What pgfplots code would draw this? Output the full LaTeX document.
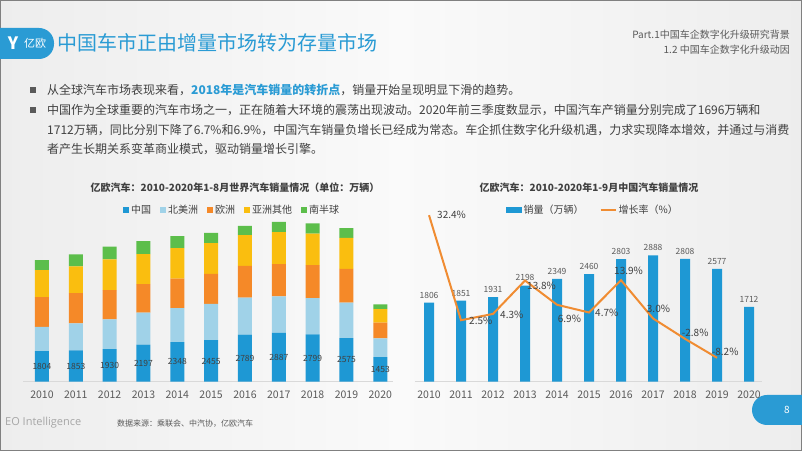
\documentclass[border=0pt]{standalone}
\usepackage{pgfplots}
\pgfplotsset{compat=1.18}
\usepackage{pgfplotstable}
\usepackage{fontspec}
\setmainfont{Noto Sans CJK SC}
\newfontfamily\opensans{Open Sans}
\definecolor{cnblue}{RGB}{30,152,212}
\definecolor{nablue}{RGB}{160,210,232}
\definecolor{euorange}{RGB}{245,137,40}
\definecolor{asyellow}{RGB}{250,190,15}
\definecolor{sgreen}{RGB}{92,190,75}
\definecolor{lineorange}{RGB}{240,140,50}
\definecolor{titleblue}{RGB}{42,155,212}
\definecolor{txt}{RGB}{64,64,64}
\definecolor{lbl}{RGB}{90,90,90}
\newcommand{\fs}[1]{\fontsize{#1bp}{#1bp}\selectfont}

\pgfplotstableread{
x cn na eu as sh
0 1804 1440 1760 1600 590
1 1853 1600 1800 1580 710
2 1930 1760 1740 1820 750
3 2197 1900 1680 1780 770
4 2348 2010 1740 1820 710
5 2455 2150 1780 1820 610
6 2789 2190 1880 1820 550
7 2887 2170 1900 1900 610
8 2799 2150 1960 1860 610
9 2575 2110 2000 1840 570
10 1453 1110 930 810 280
}\worldtable

\pgfplotstableread{
x v
0 1806
1 1851
2 1931
3 2198
4 2349
5 2460
6 2803
7 2888
8 2808
9 2577
10 1712
}\chinatable

\pgfplotstableread{
x g
0 32.4
1 2.5
2 4.3
3 13.8
4 6.9
5 4.7
6 13.9
7 3.0
8 -2.8
9 -8.2
}\growthtable

\pgfplotsset{
  commonx/.style={
    scale only axis, anchor=south west,
    axis y line=none, axis x line*=bottom,
    x axis line style={draw=black!15, line width=0.8bp, -},
    xtick={0,1,2,3,4,5,6,7,8,9,10},
    xticklabels={2010,2011,2012,2013,2014,2015,2016,2017,2018,2019,2020},
    major tick length=0,
    xticklabel style={font=\fs{10.5}, text=lbl, yshift=-6bp},
    clip=false,
  },
}

\begin{document}
\begin{tikzpicture}
\begin{scope}[x=1bp,y=1bp]
\path[use as bounding box] (0,0) rectangle (802,451);
\clip (0,0) rectangle (802,451);
\shade[left color=black!7, right color=black!7, middle color=black!2] (0,0) rectangle (802,451);
\draw[black!50, line width=2bp] (0,0) rectangle (802,451);

% header tab
\fill[titleblue, rounded corners=15bp] (-20,392) rectangle (54,423);
\node[white, font=\fs{17}\bfseries] at (13,407.5) {Y};
\node[white, font=\fs{11}] at (35,407.5) {亿欧};
\node[anchor=west, text=titleblue, font=\fs{20}, inner sep=0] at (57,408) {中国车市正由增量市场转为存量市场};
\node[anchor=east, text=lbl, font=\fs{10}, inner sep=0] at (790,416) {Part.1中国车企数字化升级研究背景};
\node[anchor=east, text=lbl, font=\fs{10}, inner sep=0] at (790,401) {1.2 中国车企数字化升级动因};

% bullets
\fill[black!65] (30,358) rectangle (36,364);
\fill[black!65] (30,338) rectangle (36,344);
\node[anchor=base west, text=txt, font=\fs{12}, inner sep=0] at (47,356.4) {从全球汽车市场表现来看，\textcolor{titleblue}{\bfseries 2018年是汽车销量的转折点}，销量开始呈现明显下滑的趋势。};
\node[anchor=base west, text=txt, font=\fs{12}, inner sep=0] at (47,336.4) {中国作为全球重要的汽车市场之一，正在随着大环境的震荡出现波动。2020年前三季度数显示，中国汽车产销量分别完成了1696万辆和};
\node[anchor=base west, text=txt, font=\fs{12}, inner sep=0] at (47,316.4) {1712万辆，同比分别下降了6.7\%和6.9\%，中国汽车销量负增长已经成为常态。车企抓住数字化升级机遇，力求实现降本增效，并通过与消费};
\node[anchor=base west, text=txt, font=\fs{12}, inner sep=0] at (47,297.4) {者产生长期关系变革商业模式，驱动销量增长引擎。};

% chart titles
\node[text=txt, font=\fs{10}\bfseries] at (235,263) {亿欧汽车：2010-2020年1-8月世界汽车销量情况（单位：万辆）};
\node[text=txt, font=\fs{10}\bfseries] at (589,263) {亿欧汽车：2010-2020年1-9月中国汽车销量情况};

% footer
\node[anchor=west, inner sep=0, text=black!35, font=\opensans\fs{11}] at (5,28) {EO Intelligence};
\node[anchor=west, inner sep=0, text=lbl, font=\fs{8}] at (117,27) {数据来源：乘联会、中汽协，亿欧汽车};
\fill[titleblue, rounded corners=15bp] (752,26) rectangle (830,56);
\node[white, font=\fs{10}] at (787,41) {8};
\end{scope}

% left chart
\begin{axis}[
  commonx,
  at={(23bp,69.3bp)},
  width=370bp, height=170bp,
  xmin=-0.56, xmax=10.375, ymin=0, ymax=10070,
  ybar stacked, bar width=14bp,
  legend style={at={(axis description cs:0.565,1.01)}, anchor=center, draw=none, fill=none,
    font=\fs{10}, text=txt, legend columns=-1,
    /tikz/every even column/.append style={column sep=7bp}},
  legend image code/.code={\fill[#1] (0bp,-3bp) rectangle (6bp,3bp);},
]
\addplot[fill=cnblue, draw=none] table[x=x,y=cn]{\worldtable};
\addlegendentry{中国}
\addplot[fill=nablue, draw=none] table[x=x,y=na]{\worldtable};
\addlegendentry{北美洲}
\addplot[fill=euorange, draw=none] table[x=x,y=eu]{\worldtable};
\addlegendentry{欧洲}
\addplot[fill=asyellow, draw=none] table[x=x,y=as]{\worldtable};
\addlegendentry{亚洲其他}
\addplot[fill=sgreen, draw=none] table[x=x,y=sh]{\worldtable};
\addlegendentry{南半球}
\end{axis}

% left chart labels (overlay, drawn on top of the bars)
\begin{axis}[
  at={(23bp,69.3bp)}, anchor=south west, scale only axis,
  width=370bp, height=170bp,
  xmin=-0.56, xmax=10.375, ymin=0, ymax=10070,
  axis lines=none, clip=false,
]
\addplot[draw=none, mark=none, nodes near coords, point meta=explicit symbolic,
  every node near coord/.style={anchor=center, font=\fs{8.5}, text=txt}]
  coordinates {(0,902)[1804] (1,926)[1853] (2,965)[1930] (3,1098)[2197] (4,1174)[2348]
    (5,1227)[2455] (6,1394)[2789] (7,1443)[2887] (8,1399)[2799] (9,1287)[2575] (10,726)[1453]};
\end{axis}

% right chart bars
\begin{axis}[
  commonx,
  at={(415bp,69.3bp)},
  width=347bp, height=176.7bp,
  xmin=-0.4375, xmax=10.406, ymin=0, ymax=4038,
  ybar, bar width=10bp,
  nodes near coords,
  /pgf/number format/assume math mode=true,
  /pgf/number format/1000 sep={},
  nodes near coords style={font=\fs{8.5}, text=lbl, yshift=1bp},
]
\addplot[fill=cnblue, draw=none] table[x=x,y=v]{\chinatable};
\end{axis}

% right chart line
\begin{axis}[
  at={(415bp,69.3bp)}, anchor=south west, scale only axis,
  width=347bp, height=176.7bp,
  xmin=-0.4375, xmax=10.406, ymin=-15, ymax=35.3,
  axis lines=none, clip=false,
  legend style={at={(axis description cs:0.513,0.972)}, anchor=center, draw=none, fill=none,
    font=\fs{10}, text=txt, legend columns=-1,
    /tikz/every even column/.append style={column sep=14bp}},
]
\addlegendimage{legend image code/.code={\fill[cnblue] (0bp,-2.7bp) rectangle (15bp,2.7bp);}}
\addlegendentry{销量（万辆）}
\addplot[lineorange, line width=2bp, mark=none,
  legend image code/.code={\draw[lineorange, line width=2bp] (0bp,0bp) -- (15bp,0bp);}]
  table[x=x,y=g]{\growthtable};
\addlegendentry{增长率（\%）}
\node[anchor=west, inner sep=0, font=\fs{10}, text=txt, xshift=8bp, yshift=0bp] at (axis cs:0,32.4) {32.4\%};
\node[anchor=west, inner sep=0, font=\fs{10}, text=txt, xshift=8bp, yshift=-0.4bp] at (axis cs:1,2.5) {2.5\%};
\node[anchor=west, inner sep=0, font=\fs{10}, text=txt, xshift=7bp, yshift=-1bp] at (axis cs:2,4.3) {4.3\%};
\node[anchor=west, inner sep=0, font=\fs{10}, text=txt, xshift=2bp, yshift=-5.4bp] at (axis cs:3,13.8) {13.8\%};
\node[anchor=west, inner sep=0, font=\fs{10}, text=txt, xshift=0.7bp, yshift=-14bp] at (axis cs:4,6.9) {6.9\%};
\node[anchor=west, inner sep=0, font=\fs{10}, text=txt, xshift=6bp, yshift=-0.7bp] at (axis cs:5,4.7) {4.7\%};
\node[anchor=west, inner sep=0, font=\fs{10}, text=txt, xshift=-7bp, yshift=9.5bp] at (axis cs:6,13.9) {13.9\%};
\node[anchor=west, inner sep=0, font=\fs{10}, text=txt, xshift=-6.3bp, yshift=9.9bp] at (axis cs:7,3.0) {3.0\%};
\node[anchor=west, inner sep=0, font=\fs{10}, text=txt, xshift=-3.3bp, yshift=5.9bp] at (axis cs:8,-2.8) {-2.8\%};
\node[anchor=west, inner sep=0, font=\fs{10}, text=txt, xshift=-5.3bp, yshift=5.6bp] at (axis cs:9,-8.2) {-8.2\%};
\end{axis}
\end{tikzpicture}
\end{document}
